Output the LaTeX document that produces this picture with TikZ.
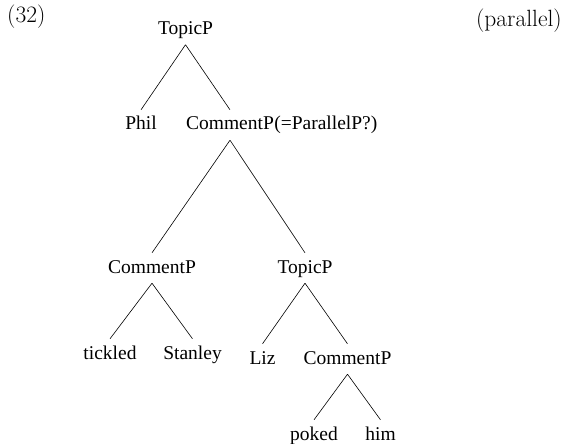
\documentclass[tikz,border=0pt]{standalone}
\usepackage{fontspec}
\newfontfamily\treefont{Liberation Serif}
\tikzset{
  cat/.style={font=\treefont\fontsize{19.5}{23}\selectfont,anchor=base,
    inner xsep=0pt,inner ysep=0pt,text height=20pt,text depth=10pt},
  branch/.style={line width=0.6pt},
  exlabel/.style={font=\fontsize{23.5}{28}\selectfont,inner sep=0pt}
}
\begin{document}
\begin{tikzpicture}[x=1pt,y=-1pt]
  \useasboundingbox (0,0) rectangle (566,444);
  \node[exlabel,anchor=base west] (exno) at (7,22.6) {(32)};
  \node[exlabel,anchor=base east] (exnote) at (562,27) {(parallel)};
  \node[cat] (topA) at (185.5,34.5) {TopicP};
  \node[cat] (phil) at (141,130) {Phil};
  \node[cat] (comA) at (230,130) {CommentP};
  \node[cat,anchor=base west] (comAx) at (comA.base east) {(=ParallelP?)};
  \node[cat] (comB) at (152,273) {CommentP};
  \node[cat] (topB) at (305,273) {TopicP};
  \node[cat] (tickled) at (110,359) {tickled};
  \node[cat] (stanley) at (192.5,359) {Stanley};
  \node[cat] (liz) at (262.5,364) {Liz};
  \node[cat] (comC) at (347.5,364) {CommentP};
  \node[cat] (poked) at (314,440) {poked};
  \node[cat] (him) at (380.5,440) {him};
  \draw[branch]
  (topA.south) -- (phil.north)
  (topA.south) -- (comA.north)
  (comA.south) -- (comB.north)
  (comA.south) -- (topB.north)
  (comB.south) -- (tickled.north)
  (comB.south) -- (stanley.north)
  (topB.south) -- (liz.north)
  (topB.south) -- (comC.north)
  (comC.south) -- (poked.north)
  (comC.south) -- (him.north);
\end{tikzpicture}
\end{document}
